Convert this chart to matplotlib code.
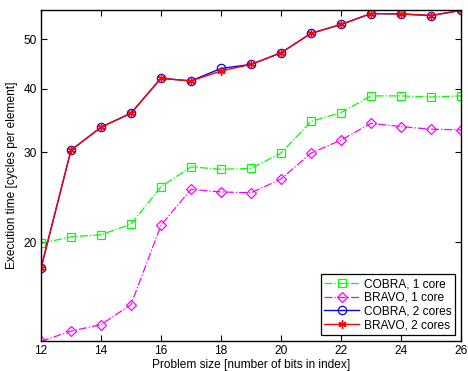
import matplotlib
matplotlib.use("Agg")
import matplotlib.pyplot as plt
from matplotlib.ticker import FixedLocator, NullLocator, FixedFormatter

# problem size (bits in index) vs execution time, log y axis
bits = [12, 13, 14, 15, 16, 17, 18, 19, 20, 21, 22, 23, 24, 25, 26]
cobra_1core = [19.9, 20.5, 20.7, 21.7, 25.7, 28.1, 27.8, 27.9, 29.9, 34.5, 35.9, 38.7, 38.7, 38.5, 38.7]
bravo_1core = [12.8, 13.4, 13.8, 15.1, 21.6, 25.4, 25.1, 25.0, 26.6, 29.9, 31.7, 34.2, 33.7, 33.3, 33.2]
cobra_2cores = [17.8, 30.3, 33.6, 35.8, 41.9, 41.4, 43.8, 44.6, 47.0, 51.3, 53.4, 56.1, 56.0, 55.6, 56.9]
bravo_2cores = [17.8, 30.3, 33.6, 35.8, 41.9, 41.4, 43.3, 44.6, 47.0, 51.3, 53.4, 56.1, 56.0, 55.6, 56.9]

x_ticks = [12, 14, 16, 18, 20, 22, 24, 26]
y_ticks = [20, 30, 40, 50]

plt.rcParams["font.family"] = ["Liberation Sans", "DejaVu Sans"]
plt.rcParams["font.size"] = 8.6

fig = plt.figure(figsize=(4.68, 3.71), dpi=100)
ax = fig.add_axes([0.0876, 0.081, 0.8974, 0.892])

ax.plot(bits, cobra_1core, linestyle="-.", color="#00ff00", linewidth=0.9,
        marker="s", markersize=5.5, markerfacecolor="none", markeredgewidth=0.9,
        label="COBRA, 1 core")
ax.plot(bits, bravo_1core, linestyle="-.", color="#ff00ff", linewidth=0.9,
        marker="D", markersize=5.5, markerfacecolor="none", markeredgewidth=0.9,
        label="BRAVO, 1 core")
ax.plot(bits, cobra_2cores, linestyle="-", color="#0000ff", linewidth=1.0,
        marker="o", markersize=6, markerfacecolor="none", markeredgewidth=0.9,
        label="COBRA, 2 cores")
ax.plot(bits, bravo_2cores, linestyle="-", color="#ff0000", linewidth=1.0,
        marker=(6, 2, 0), markersize=6, markeredgewidth=1.0,
        label="BRAVO, 2 cores")

ax.set_yscale("log")
ax.set_xlim(12, 26)
ax.set_ylim(12.82, 57.0)
ax.xaxis.set_major_locator(FixedLocator(x_ticks))
ax.yaxis.set_major_locator(FixedLocator(y_ticks))
ax.yaxis.set_major_formatter(FixedFormatter([str(v) for v in y_ticks]))
ax.yaxis.set_minor_locator(NullLocator())
ax.tick_params(direction="in", length=4, width=0.8, top=True, right=True, pad=3)

for sp in ax.spines.values():
    sp.set_linewidth(1.0)

ax.set_xlabel("Problem size [number of bits in index]", labelpad=1)
ax.set_ylabel("Execution time [cycles per element]", labelpad=4)

leg = ax.legend(loc="lower right", fancybox=False, framealpha=1, edgecolor="black",
                handlelength=2.9, borderpad=0.3, labelspacing=0.15, handletextpad=0.4,
                borderaxespad=0.5)
leg.get_frame().set_linewidth(0.9)

fig.savefig("out.png", dpi=100)
